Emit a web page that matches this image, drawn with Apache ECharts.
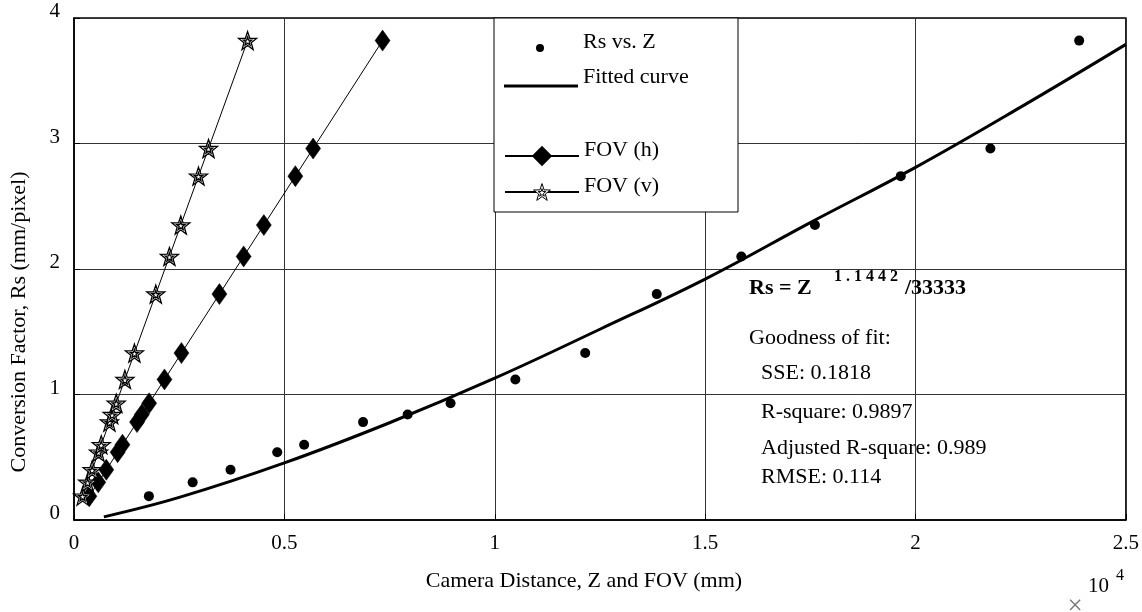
<!DOCTYPE html>
<html>
<head>
<meta charset="utf-8">
<script src="https://cdn.jsdelivr.net/npm/echarts@6/dist/echarts.min.js"></script>
<style>
html,body{margin:0;padding:0;background:#fff;}
#chart{width:1142px;height:612px;}
</style>
</head>
<body>
<div id="chart"></div>
<script>
// Camera distance Z (mm) and conversion factor Rs (mm/pixel)
const zValues   = [1780, 2820, 3720, 4830, 5470, 6870, 7930, 8950, 10490, 12150, 13850, 15860, 17610, 19650, 21780, 23890];
const rsValues  = [0.19, 0.30, 0.40, 0.54, 0.60, 0.78, 0.84, 0.93, 1.12, 1.33, 1.80, 2.10, 2.35, 2.74, 2.96, 3.82];
// Field of view (mm) at the same Rs values
const fovH      = [365, 576, 768, 1037, 1152, 1498, 1613, 1786, 2150, 2554, 3456, 4032, 4512, 5261, 5683, 7334];
const fovV      = [205, 324, 432, 583, 648, 842, 907, 1004, 1210, 1436, 1944, 2268, 2538, 2959, 3197, 4126];
// Fitted curve
const fitZ      = [710, 2500, 5000, 7500, 10000, 12500, 15000, 17500, 20000, 22500, 25000];
const fitRs     = [0.025, 0.18, 0.455, 0.775, 1.13, 1.52, 1.92, 2.37, 2.81, 3.29, 3.79];
// Axis ticks
const xTicks    = [0, 5000, 10000, 15000, 20000, 25000];
const yTicks    = [0, 1, 2, 3, 4];

const seriesNames = ['Rs vs. Z', 'Fitted curve', 'FOV (h)', 'FOV (v)'];
const fitStats = ['Goodness of fit:', 'SSE: 0.1818', 'R-square: 0.9897', 'Adjusted R-square: 0.989', 'RMSE: 0.114'];

const FONT = '"Liberation Serif", "DejaVu Serif", serif';
const STAR = 'path://M10 0 L12.351 6.764 L19.511 6.910 L13.804 11.236 L15.878 18.090 L10 14 L4.122 18.090 L6.196 11.236 L0.489 6.910 L7.649 6.764 Z M10 5.5 L11.058 8.544 L14.28 8.61 L11.712 10.556 L12.645 13.64 L10 11.8 L7.355 13.64 L8.288 10.556 L5.72 8.61 L8.942 8.544 Z';

const pairs = (xs, ys) => xs.map((x, i) => [x, ys[i]]);

const chart = echarts.init(document.getElementById('chart'), null, {renderer: 'canvas'});

const legText = (pad) => ({fontFamily: FONT, fontSize: 22, color: '#000',
  rich: {t: {fontFamily: FONT, fontSize: 22, color: '#000', padding: pad}}});
const legendBase = {orient: 'vertical', selectedMode: false, itemGap: 0, padding: 0, formatter: '{t|{name}}'};

const txt = (x, y, text, font) => ({type: 'text', z: 5, x: x, y: y, style: {text: text, font: font, fill: '#000', verticalAlign: 'middle'}});

const option = {
  backgroundColor: '#fff',
  animation: false,
  grid: {left: 74, right: 12, top: 18, bottom: 92, show: true, borderColor: '#000', borderWidth: 1.5, backgroundColor: 'transparent'},
  xAxis: {
    type: 'value', min: xTicks[0], max: xTicks[xTicks.length - 1], interval: 5000,
    name: 'Camera Distance, Z and FOV (mm)', nameLocation: 'middle', nameGap: 50,
    nameTextStyle: {fontFamily: FONT, fontSize: 22, color: '#000', padding: [0, 32, 0, 0]},
    axisLine: {show: true, lineStyle: {color: '#000', width: 1.5}},
    axisTick: {show: true, inside: true, length: 6, lineStyle: {color: '#000'}},
    axisLabel: {fontFamily: FONT, fontSize: 21, color: '#000', margin: 13, formatter: v => String(v / 10000)},
    splitLine: {show: true, lineStyle: {color: '#333', width: 1}}
  },
  yAxis: {
    type: 'value', min: yTicks[0], max: yTicks[yTicks.length - 1], interval: 1,
    name: 'Conversion Factor, Rs (mm/pixel)', nameLocation: 'middle', nameGap: 44, nameRotate: 90,
    nameTextStyle: {fontFamily: FONT, fontSize: 22, color: '#000', padding: [0, 106, 0, 0]},
    axisLine: {show: true, lineStyle: {color: '#000', width: 1.5}},
    axisTick: {show: true, inside: true, length: 6, lineStyle: {color: '#000'}},
    axisLabel: {fontFamily: FONT, fontSize: 21, color: '#000', margin: 14, verticalAlign: 'bottom', lineHeight: 13},
    splitLine: {show: true, lineStyle: {color: '#333', width: 1}}
  },
  legend: [
    Object.assign({}, legendBase, {data: [{name: seriesNames[0], icon: 'circle'}], left: 536, top: 31, itemWidth: 8, itemHeight: 8,
      textStyle: legText([0, 0, 12, 34])}),
    Object.assign({}, legendBase, {data: [{name: seriesNames[1], icon: 'rect', itemStyle: {color: '#000'}}], left: 504, top: 66, itemWidth: 74, itemHeight: 3,
      textStyle: legText([0, 0, 18, 0])}),
    Object.assign({}, legendBase, {data: [seriesNames[2]], left: 504, top: 139, itemWidth: 74, itemHeight: 22,
      textStyle: legText([0, 0, 12, 0])}),
    Object.assign({}, legendBase, {data: [{name: seriesNames[3], itemStyle: {color: '#fff', borderColor: '#000', borderWidth: 1}}], left: 504, top: 175, itemWidth: 74, itemHeight: 21,
      textStyle: legText([0, 0, 12, 0])})
  ],
  graphic: [
    {type: 'rect', z: 3, shape: {x: 494, y: 18, width: 244, height: 194}, style: {fill: '#fff', stroke: '#000', lineWidth: 1}},
    txt(749, 288, 'Rs = Z', 'bold 22px ' + FONT),
    txt(834, 277, '1 . 1 4 4 2', 'bold 16px ' + FONT),
    txt(905, 288, '/33333', 'bold 22px ' + FONT),
    txt(749, 338, fitStats[0], '22px ' + FONT),
    txt(761, 373, fitStats[1], '22px ' + FONT),
    txt(761, 412, fitStats[2], '22px ' + FONT),
    txt(761, 448, fitStats[3], '22px ' + FONT),
    txt(761, 477, fitStats[4], '22px ' + FONT),
    {type: 'text', z: 5, x: 1075, y: 607, style: {text: '×', font: '27px ' + FONT, fill: '#777', align: 'center', verticalAlign: 'middle'}},
    txt(1088, 586, '10', '21px ' + FONT),
    txt(1116, 576, '4', '16px ' + FONT)
  ],
  series: [
    {
      name: seriesNames[0], type: 'scatter', data: pairs(zValues, rsValues),
      symbol: 'circle', symbolSize: 10, itemStyle: {color: '#000', opacity: 1}, z: 4
    },
    {
      name: seriesNames[1], type: 'line', data: pairs(fitZ, fitRs), smooth: 0.4,
      symbol: 'none', showSymbol: false, lineStyle: {color: '#000', width: 3}, itemStyle: {color: '#000'}, z: 3
    },
    {
      name: seriesNames[2], type: 'line', data: pairs(fovH, rsValues),
      symbol: 'diamond', symbolSize: [15, 21], showAllSymbol: true,
      lineStyle: {color: '#000', width: 1}, itemStyle: {color: '#000', borderColor: '#000', borderWidth: 0.5}, z: 2
    },
    {
      name: seriesNames[3], type: 'line', data: pairs(fovV, rsValues),
      symbol: STAR, symbolSize: 18, showAllSymbol: true,
      lineStyle: {color: '#000', width: 1}, itemStyle: {color: '#fff', borderColor: '#000', borderWidth: 1.3}, z: 2
    }
  ]
};
chart.setOption(option);
</script>
</body>
</html>
